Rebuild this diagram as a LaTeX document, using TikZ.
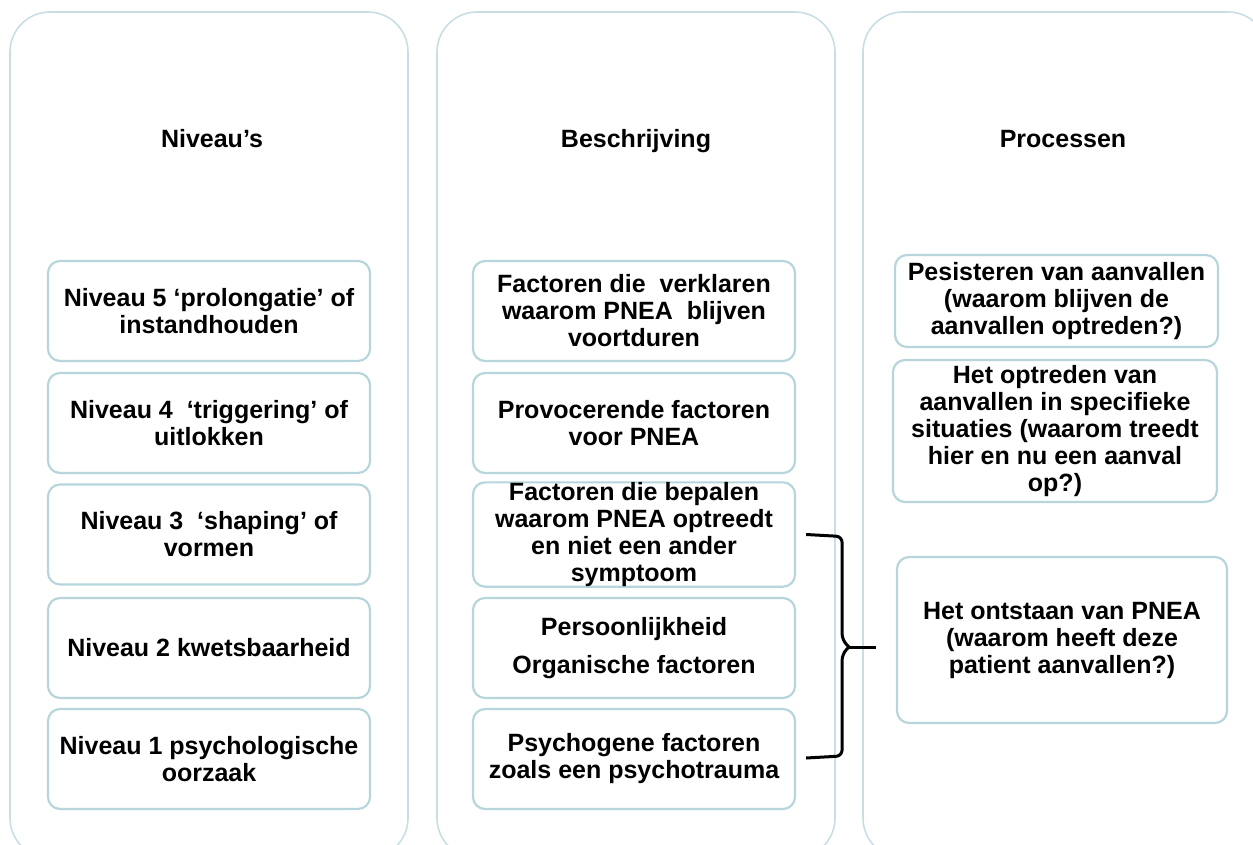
\documentclass[tikz,border=0pt]{standalone}
\usepackage{fontspec}
\setmainfont{Liberation Sans}
\usepackage{tikz}
\usetikzlibrary{calc}
\definecolor{panelline}{RGB}{200,222,226}
\definecolor{boxline}{RGB}{182,214,220}

\begin{document}
\begin{tikzpicture}[x=1pt,y=-1pt,
  panel/.style={draw=panelline, line width=1.6pt, rounded corners=40pt},
  stage/.style={draw=boxline, line width=2.2pt, rounded corners=12pt, fill=white,
    minimum width=322pt, minimum height=100pt, inner sep=0pt, align=center,
    font={\fontsize{25}{27}\selectfont\bfseries}},
  head/.style={anchor=base, font={\fontsize{25}{27}\selectfont\bfseries}},
  bracket/.style={black, line width=3pt, rounded corners=6pt}]
\clip (0,0) rectangle (1253,845);

% the three columns
   \draw[panel] (10,12) rectangle (408,858);
   \draw[panel] (437,12) rectangle (835,858);
   \draw[panel] (863,12) rectangle (1268,858);
   \node[head] (h1) at (212,148) {Niveau’s};
   \node[head] (h2) at (636,148) {Beschrijving};
   \node[head] (h3) at (1063,148) {Processen};

% niveaus
   \node[stage] (N5) at (209,311) {Niveau 5 ‘prolongatie’ of\\instandhouden};
   \node[stage] (N4) at (209,423) {Niveau 4\ \ ‘triggering’ of\\uitlokken};
   \node[stage] (N3) at (209,534.5) {Niveau 3\ \ ‘shaping’ of\\vormen};
   \node[stage] (N2) at (209,648) {Niveau 2 kwetsbaarheid};
   \node[stage] (N1) at (209,759) {Niveau 1 psychologische\\oorzaak};

% beschrijving
   \node[stage] (A) at (634,311) {Factoren die\ \ verklaren\\waarom PNEA\ \ blijven\\voortduren};
   \node[stage] (B) at (634,423) {Provocerende factoren\\voor PNEA};
   \node[stage] (C) at (634,534.5) {Factoren die bepalen\\waarom PNEA optreedt\\en niet een ander\\symptoom};
   \node[stage] (D) at (634,648) {Persoonlijkheid\\[11pt]Organische factoren};
   \node[stage] (E) at (634,759) {Psychogene factoren\\zoals een psychotrauma};

% processen
   \node[stage, minimum width=323pt, minimum height=92pt] (P) at (1056.5,301) {Pesisteren van aanvallen\\(waarom blijven de\\aanvallen optreden?)};
   \node[stage, minimum width=324pt, minimum height=142pt] (Q) at (1055,431) {Het optreden van\\aanvallen in specifieke\\situaties (waarom treedt\\hier en nu een aanval\\op?)};
   \node[stage, minimum width=330pt, minimum height=166pt] (R) at (1062,640) {Het ontstaan van PNEA\\(waarom heeft deze\\patient aanvallen?)};

% accolade
\coordinate (btop) at ($(C.east)+(10,0)$);
\coordinate (bbot) at ($(E.east)+(10,-1)$);
\coordinate (bmid) at ($(D.east)+(46,-1)$);
\coordinate (btip) at ($(R.west |- bmid)+(-20,0)$);
   \draw[bracket] (btop) -- ++(36,2) -- ($(bmid)+(0,-7)$) -- ($(bmid)+(7,0)$);
   \draw[bracket] (bbot) -- ++(36,-2) -- ($(bmid)+(0,7)$) -- ($(bmid)+(7,0)$);
   \draw[bracket] ($(bmid)+(5,0)$) -- (btip);
\end{tikzpicture}
\end{document}
